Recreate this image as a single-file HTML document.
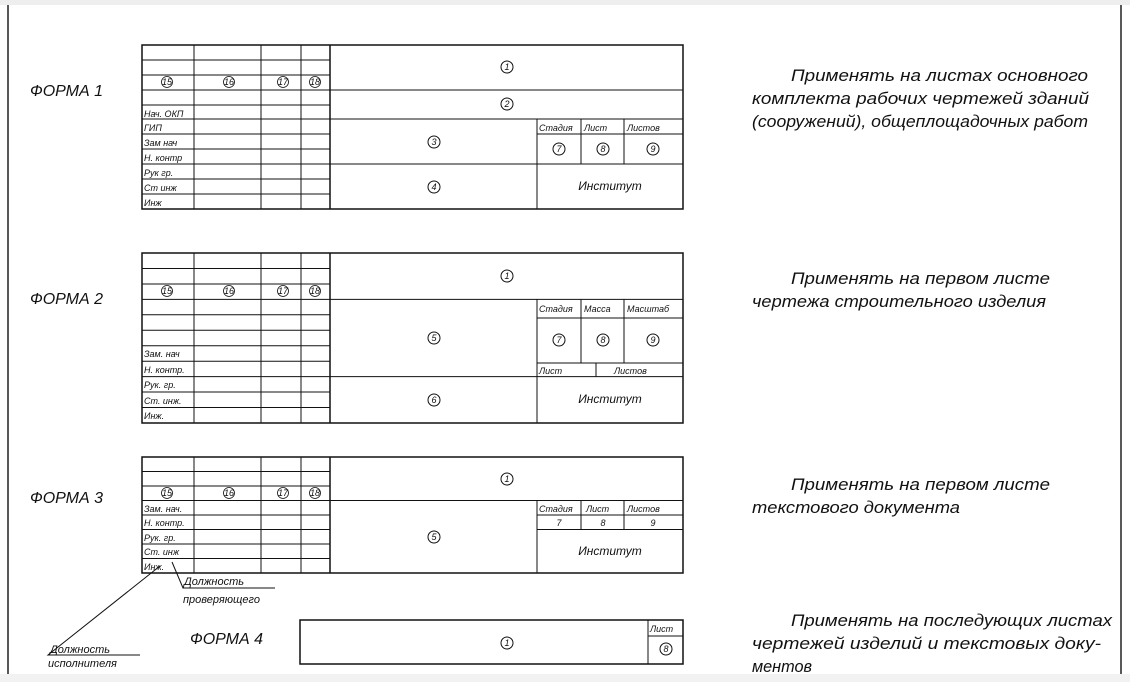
<!DOCTYPE html>
<html><head><meta charset="utf-8"><style>
html,body{margin:0;padding:0;background:#fff;}
svg{display:block;}
text{font-family:"Liberation Sans",sans-serif;font-style:italic;fill:#111;}
.s{font-size:9px;}
.n{font-size:9px;text-anchor:middle;}
.f{font-size:16px;}
.r{font-size:17px;}
</style></head><body>
<svg width="1130" height="682" viewBox="0 0 1130 682" xmlns="http://www.w3.org/2000/svg">
<rect x="0" y="0" width="1130" height="5" fill="#eeeeee"/>
<rect x="0" y="674" width="1130" height="8" fill="#f2f2f2"/>
<line x1="8" y1="5" x2="8" y2="674" stroke="#222" stroke-width="1.5"/>
<line x1="1121" y1="5" x2="1121" y2="674" stroke="#222" stroke-width="1.5"/>

<g stroke="#111" fill="none" stroke-width="1">
<rect x="142" y="45" width="541" height="164" stroke-width="1.5"/>
<line x1="194" y1="45" x2="194" y2="209"/><line x1="261" y1="45" x2="261" y2="209"/><line x1="301" y1="45" x2="301" y2="209"/><line x1="330" y1="45" x2="330" y2="209" stroke-width="1.5"/>
<path d="M142 60H330M142 75H330M142 90H683M142 105H330M142 119H683M142 134H330M142 149H330M142 164H683M142 179H330M142 194H330"/>
<line x1="537" y1="119" x2="537" y2="209"/><line x1="581" y1="119" x2="581" y2="164"/><line x1="624" y1="119" x2="624" y2="164"/><line x1="537" y1="134" x2="683" y2="134"/>
<rect x="142" y="253" width="541" height="170" stroke-width="1.5"/>
<line x1="194" y1="253" x2="194" y2="423"/><line x1="261" y1="253" x2="261" y2="423"/><line x1="301" y1="253" x2="301" y2="423"/><line x1="330" y1="253" x2="330" y2="423" stroke-width="1.5"/>
<path d="M142 268.5H330M142 284H330M142 299.4H683M142 314.8H330M142 330.3H330M142 345.7H330M142 361.2H330M142 376.6H683M142 392H330M142 407.5H330"/>
<line x1="537" y1="299.4" x2="537" y2="423"/><line x1="581" y1="299.4" x2="581" y2="363"/><line x1="624" y1="299.4" x2="624" y2="363"/><line x1="537" y1="318" x2="683" y2="318"/><line x1="537" y1="363" x2="683" y2="363"/><line x1="596" y1="363" x2="596" y2="376.6"/>
<rect x="142" y="457" width="541" height="116" stroke-width="1.5"/>
<line x1="194" y1="457" x2="194" y2="573"/><line x1="261" y1="457" x2="261" y2="573"/><line x1="301" y1="457" x2="301" y2="573"/><line x1="330" y1="457" x2="330" y2="573" stroke-width="1.5"/>
<path d="M142 471.5H330M142 486H330M142 500.5H683M142 515H330M142 529.5H330M142 544H330M142 558.5H330"/>
<line x1="537" y1="500.5" x2="537" y2="573"/><line x1="581" y1="500.5" x2="581" y2="529.5"/><line x1="624" y1="500.5" x2="624" y2="529.5"/><line x1="537" y1="515" x2="683" y2="515"/><line x1="537" y1="529.5" x2="683" y2="529.5"/>
<rect x="300" y="620" width="383" height="44" stroke-width="1.5"/>
<line x1="648" y1="620" x2="648" y2="664"/><line x1="648" y1="636" x2="683" y2="636"/>
<path d="M160 566L48 655H140"/>
<path d="M172 562L183 588H275"/>
<circle cx="507" cy="67" r="6"/><circle cx="507" cy="104" r="6"/><circle cx="434" cy="142" r="6"/><circle cx="434" cy="187" r="6"/>
<circle cx="559" cy="149" r="6"/><circle cx="603" cy="149" r="6"/><circle cx="653" cy="149" r="6"/>
<circle cx="507" cy="276" r="6"/><circle cx="434" cy="338" r="6"/><circle cx="434" cy="400" r="6"/>
<circle cx="559" cy="340" r="6"/><circle cx="603" cy="340" r="6"/><circle cx="653" cy="340" r="6"/>
<circle cx="507" cy="479" r="6"/><circle cx="434" cy="537" r="6"/>
<circle cx="507" cy="643" r="6"/><circle cx="666" cy="649" r="6"/>
<g stroke-width="0.8">
<circle cx="167" cy="82" r="5.5"/><circle cx="229" cy="82" r="5.5"/><circle cx="283" cy="82" r="5.5"/><circle cx="315" cy="82" r="5.5"/>
<circle cx="167" cy="291" r="5.5"/><circle cx="229" cy="291" r="5.5"/><circle cx="283" cy="291" r="5.5"/><circle cx="315" cy="291" r="5.5"/>
<circle cx="167" cy="493" r="5.5"/><circle cx="229" cy="493" r="5.5"/><circle cx="283" cy="493" r="5.5"/><circle cx="315" cy="493" r="5.5"/>
</g>
</g>

<g>
<text class="n" x="507" y="70">1</text><text class="n" x="507" y="107">2</text><text class="n" x="434" y="145">3</text><text class="n" x="434" y="190">4</text>
<text class="n" x="559" y="152">7</text><text class="n" x="603" y="152">8</text><text class="n" x="653" y="152">9</text>
<text class="n" x="507" y="279">1</text><text class="n" x="434" y="341">5</text><text class="n" x="434" y="403">6</text>
<text class="n" x="559" y="343">7</text><text class="n" x="603" y="343">8</text><text class="n" x="653" y="343">9</text>
<text class="n" x="507" y="482">1</text><text class="n" x="434" y="540">5</text>
<text class="n" x="559" y="526">7</text><text class="n" x="603" y="526">8</text><text class="n" x="653" y="526">9</text>
<text class="n" x="507" y="646">1</text><text class="n" x="666" y="652">8</text>
<text class="n" x="167" y="85">15</text><text class="n" x="229" y="85">16</text><text class="n" x="283" y="85">17</text><text class="n" x="315" y="85">18</text>
<text class="n" x="167" y="294">15</text><text class="n" x="229" y="294">16</text><text class="n" x="283" y="294">17</text><text class="n" x="315" y="294">18</text>
<text class="n" x="167" y="496">15</text><text class="n" x="229" y="496">16</text><text class="n" x="283" y="496">17</text><text class="n" x="315" y="496">18</text>

<text class="s" x="144" y="117">Нач. ОКП</text><text class="s" x="144" y="131">ГИП</text><text class="s" x="144" y="146">Зам  нач</text><text class="s" x="144" y="161">Н. контр</text><text class="s" x="144" y="176">Рук  гр.</text><text class="s" x="144" y="191">Ст  инж</text><text class="s" x="144" y="206">Инж</text>
<text class="s" x="539" y="131">Стадия</text><text class="s" x="584" y="131">Лист</text><text class="s" x="627" y="131">Листов</text>
<text x="610" y="190" style="font-size:12px;text-anchor:middle">Институт</text>

<text class="s" x="144" y="357">Зам. нач</text><text class="s" x="144" y="373">Н. контр.</text><text class="s" x="144" y="388">Рук. гр.</text><text class="s" x="144" y="404">Ст. инж.</text><text class="s" x="144" y="419">Инж.</text>
<text class="s" x="539" y="312">Стадия</text><text class="s" x="584" y="312">Масса</text><text class="s" x="627" y="312">Масштаб</text>
<text class="s" x="539" y="374">Лист</text><text class="s" x="614" y="374">Листов</text>
<text x="610" y="403" style="font-size:12px;text-anchor:middle">Институт</text>

<text class="s" x="144" y="512">Зам. нач.</text><text class="s" x="144" y="526">Н. контр.</text><text class="s" x="144" y="541">Рук. гр.</text><text class="s" x="144" y="555">Ст. инж</text><text class="s" x="144" y="570">Инж.</text>
<text class="s" x="539" y="512">Стадия</text><text class="s" x="586" y="512">Лист</text><text class="s" x="627" y="512">Листов</text>
<text x="610" y="555" style="font-size:12px;text-anchor:middle">Институт</text>
<text class="s" x="650" y="632">Лист</text>

<text x="184" y="585" style="font-size:11px">Должность</text>
<text x="183" y="603" style="font-size:11px">проверяющего</text>
<text x="50" y="653" style="font-size:11px">Должность</text>
<text x="48" y="667" style="font-size:11px">исполнителя</text>

<text class="f" x="30" y="96">ФОРМА 1</text>
<text class="f" x="30" y="304">ФОРМА 2</text>
<text class="f" x="30" y="503">ФОРМА 3</text>
<text class="f" x="190" y="644">ФОРМА 4</text>

<text class="r" x="791" y="81" textLength="297" lengthAdjust="spacingAndGlyphs">Применять на листах основного</text>
<text class="r" x="752" y="104" textLength="337" lengthAdjust="spacingAndGlyphs">комплекта рабочих чертежей зданий</text>
<text class="r" x="752" y="127" textLength="336" lengthAdjust="spacingAndGlyphs">(сооружений), общеплощадочных работ</text>
<text class="r" x="791" y="284" textLength="259" lengthAdjust="spacingAndGlyphs">Применять на первом листе</text>
<text class="r" x="752" y="307" textLength="294" lengthAdjust="spacingAndGlyphs">чертежа строительного изделия</text>
<text class="r" x="791" y="490" textLength="259" lengthAdjust="spacingAndGlyphs">Применять на первом листе</text>
<text class="r" x="752" y="513" textLength="208" lengthAdjust="spacingAndGlyphs">текстового документа</text>
<text class="r" x="791" y="626" textLength="321" lengthAdjust="spacingAndGlyphs">Применять на последующих листах</text>
<text class="r" x="752" y="649" textLength="349" lengthAdjust="spacingAndGlyphs">чертежей изделий и текстовых доку-</text>
<text class="r" x="752" y="672" textLength="60" lengthAdjust="spacingAndGlyphs">ментов</text>
</g>
</svg>
</body></html>
